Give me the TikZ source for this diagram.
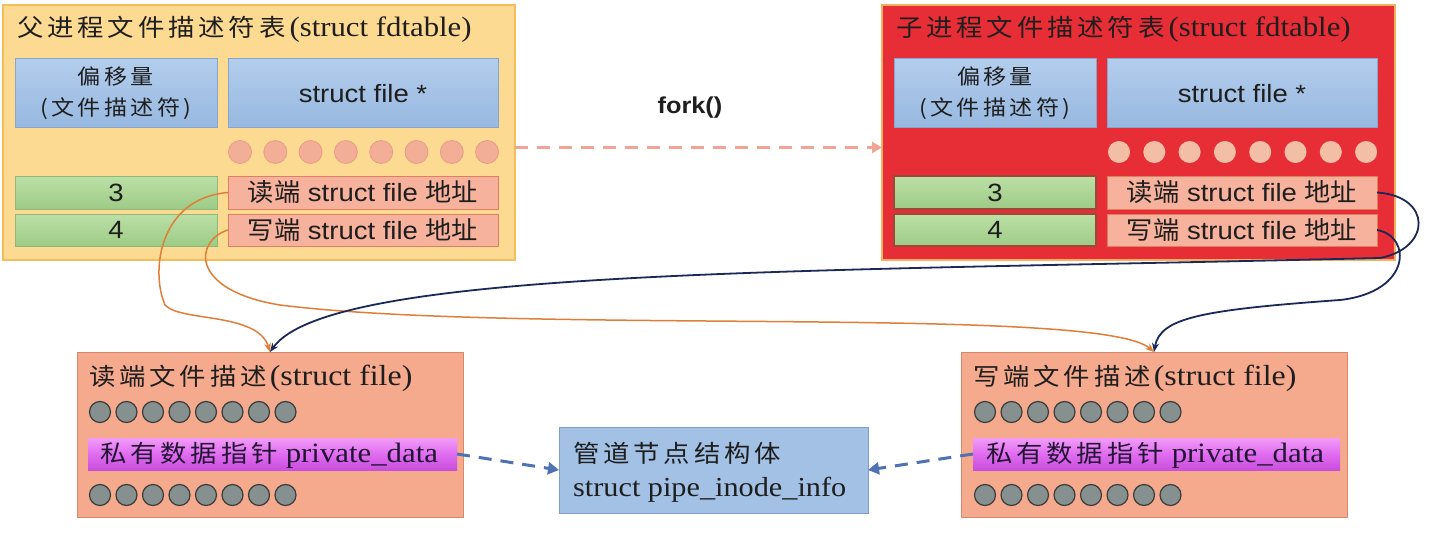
\documentclass[tikz,border=0pt]{standalone}
\usepackage{fontspec}
\setmainfont{Liberation Serif}[FakeStretch=1.1]
\newfontfamily\arialf{Liberation Sans}[FakeStretch=1.1]
\newfontfamily\cjk{Noto Sans CJK SC}[FakeStretch=1.1,LetterSpace=16]
\newfontfamily\cjkn{Noto Sans CJK SC}[FakeStretch=1.05]
\usetikzlibrary{arrows.meta}
\definecolor{parentfill}{HTML}{FCDA92}
\definecolor{parentdraw}{HTML}{F5BC5A}
\definecolor{childfill}{HTML}{E72D36}
\definecolor{childdraw}{HTML}{F3B060}
\definecolor{bluetop}{HTML}{B3CDEC}
\definecolor{bluebot}{HTML}{97B8E0}
\definecolor{bluedraw}{HTML}{86A6CF}
\definecolor{greentop}{HTML}{BCE0A6}
\definecolor{greenbot}{HTML}{9DCB86}
\definecolor{greendraw}{HTML}{8DB877}
\definecolor{cgreendraw}{HTML}{9A4A38}
\definecolor{rowfill}{HTML}{F6B29C}
\definecolor{rowdraw}{HTML}{DE7F62}
\definecolor{pdotfill}{HTML}{F3AE98}
\definecolor{pdotdraw}{HTML}{E89C82}
\definecolor{cdotfill}{HTML}{F2BFA6}
\definecolor{filefill}{HTML}{F5A98D}
\definecolor{filedraw}{HTML}{D9876A}
\definecolor{gdotfill}{HTML}{86908F}
\definecolor{gdotdraw}{HTML}{3C3C3C}
\definecolor{magtop}{HTML}{F29CF7}
\definecolor{magmid}{HTML}{E06CF0}
\definecolor{magbot}{HTML}{C84EDC}
\definecolor{pipefill}{HTML}{A2C1E5}
\definecolor{pipedraw}{HTML}{7E9FCB}
\definecolor{dasharrow}{HTML}{4E72B2}
\definecolor{forkarrow}{HTML}{F2A494}
\definecolor{orangeline}{HTML}{E07E38}
\definecolor{navyline}{HTML}{1B2858}
\definecolor{ink}{HTML}{1E1E1E}
\definecolor{magink}{HTML}{221433}
\tikzset{
  box/.style={rectangle, inner sep=0pt, outer sep=0pt},
  parentbox/.style={box, fill=parentfill, draw=parentdraw, line width=1.5pt},
  childbox/.style={box, fill=childfill, draw=childdraw, line width=1.5pt},
  titletext/.style={anchor=west, inner sep=0pt, text=ink},
  bluebox/.style={box, top color=bluetop, bottom color=bluebot, draw=bluedraw, line width=1pt, text=ink},
  greenbox/.style={box, top color=greentop, bottom color=greenbot, draw=greendraw, line width=1pt, minimum width=202pt, font=\arialf\fontsize{25}{28}\selectfont, text=ink},
  cgreenbox/.style={greenbox, draw=cgreendraw, line width=1.5pt},
  rowbox/.style={box, fill=rowfill, draw=rowdraw, line width=1pt, minimum width=270pt, font=\arialf\fontsize{25}{28}\selectfont, text=ink},
  pdot/.style={circle, inner sep=0pt, minimum size=23pt, fill=pdotfill, draw=pdotdraw, line width=0.8pt},
  cdot/.style={circle, inner sep=0pt, minimum size=22pt, fill=cdotfill},
  filebox/.style={box, fill=filefill, draw=filedraw, line width=1pt},
  gdot/.style={circle, inner sep=0pt, minimum size=21pt, fill=gdotfill, draw=gdotdraw, line width=1.2pt},
  magbar/.style={box, top color=magtop, bottom color=magbot, middle color=magmid, minimum height=32pt},
  magtext/.style={anchor=west, inner sep=0pt, text=magink},
  pipebox/.style={box, fill=pipefill, draw=pipedraw, line width=1pt},
  dasharr/.style={draw=dasharrow, line width=3pt, dash pattern=on 13pt off 9pt, -{Triangle[length=11pt,width=12pt]}},
  forkarr/.style={draw=forkarrow, line width=2.5pt, dash pattern=on 13pt off 9pt, -{Triangle[length=10pt,width=11pt]}},
  orangecurve/.style={draw=orangeline, line width=1.5pt, -{Stealth[length=9pt,width=7pt]}},
  navycurve/.style={draw=navyline, line width=1.8pt, -{Stealth[length=9pt,width=7pt]}}
}
\begin{document}
\begin{tikzpicture}[x=1pt,y=-1pt]
\useasboundingbox (0,0) rectangle (1435,559);
\fill[white] (0,0) rectangle (1435,559);

% ---------- parent table ----------
\node[parentbox, minimum width=512pt, minimum height=255pt] (P) at (259,132.5) {};
\node[titletext] (Ptitle) at (17,29) {{\cjk\fontsize{24}{28}\selectfont 父进程文件描述符表}{\fontsize{28}{30}\selectfont\hspace{4pt}(struct fdtable)}};
\node[bluebox, minimum width=202pt, minimum height=69pt, align=center, font=\cjk\fontsize{21}{31}\selectfont] (pbl) at (116,93.5) {偏移量\\(文件描述符)};
\node[bluebox, minimum width=270pt, minimum height=69pt, font=\arialf\fontsize{25}{28}\selectfont] (pbr) at (363,93.5) {struct file *};
\foreach \i in {0,...,7} \node[pdot] (pd\i) at ({240+35.3*\i},152) {};
\node[greenbox, minimum height=33pt] (pg3) at (116,192.5) {3};
\node[greenbox, minimum height=32pt] (pg4) at (116,230) {4};
\node[rowbox, minimum height=33pt] (pr3) at (363,192.5) {{\cjkn 读端} struct file {\cjkn 地址}};
\node[rowbox, minimum height=32pt] (pr4) at (363,230) {{\cjkn 写端} struct file {\cjkn 地址}};

% ---------- child table ----------
\node[childbox, minimum width=513pt, minimum height=255pt] (C) at (1138.5,132.5) {};
\node[titletext] (Ctitle) at (896,29) {{\cjk\fontsize{24}{28}\selectfont 子进程文件描述符表}{\fontsize{28}{30}\selectfont\hspace{4pt}(struct fdtable)}};
\node[bluebox, minimum width=202pt, minimum height=69pt, align=center, font=\cjk\fontsize{21}{31}\selectfont] (cbl) at (995,93.5) {偏移量\\(文件描述符)};
\node[bluebox, minimum width=270pt, minimum height=69pt, font=\arialf\fontsize{25}{28}\selectfont] (cbr) at (1242,93.5) {struct file *};
\foreach \i in {0,...,7} \node[cdot] (cd\i) at ({1119+35.3*\i},152) {};
\node[cgreenbox, minimum height=33pt] (cg3) at (995,192.5) {3};
\node[cgreenbox, minimum height=32pt] (cg4) at (995,230) {4};
\node[rowbox, minimum height=33pt] (cr3) at (1242,192.5) {{\cjkn 读端} struct file {\cjkn 地址}};
\node[rowbox, minimum height=32pt] (cr4) at (1242,230) {{\cjkn 写端} struct file {\cjkn 地址}};

% ---------- fork ----------
\draw[forkarr] ([yshift=-15pt]P.east) -- ([yshift=-15pt]C.west);
\node[inner sep=0pt, font=\arialf\bfseries\fontsize{23}{26}\selectfont, text=ink] (fork) at (690,108) {fork()};

% ---------- read file ----------
\node[filebox, minimum width=386pt, minimum height=165pt] (BL) at (270,434.5) {};
\node[titletext] (BLtitle) at (89,378) {{\cjk\fontsize{24}{28}\selectfont 读端文件描述}{\fontsize{29}{30}\selectfont\hspace{3pt}(struct file)}};
\foreach \i in {0,...,7} \node[gdot] (bla\i) at ({100+26.5*\i},412) {};
\node[magbar, minimum width=369pt] (magL) at (272.5,454) {};
\node[magtext] (magLt) at (100,455) {{\cjk\fontsize{24}{28}\selectfont 私有数据指针}{\fontsize{28}{30}\selectfont\hspace{8pt}private\_data}};
\foreach \i in {0,...,7} \node[gdot] (blb\i) at ({100+26.5*\i},495) {};

% ---------- write file ----------
\node[filebox, minimum width=386pt, minimum height=165pt] (BR) at (1154,434.5) {};
\node[titletext] (BRtitle) at (973,378) {{\cjk\fontsize{24}{28}\selectfont 写端文件描述}{\fontsize{29}{30}\selectfont\hspace{3pt}(struct file)}};
\foreach \i in {0,...,7} \node[gdot] (bra\i) at ({985+26.5*\i},412) {};
\node[magbar, minimum width=367pt] (magR) at (1156.5,454) {};
\node[magtext] (magRt) at (986,455) {{\cjk\fontsize{24}{28}\selectfont 私有数据指针}{\fontsize{28}{30}\selectfont\hspace{8pt}private\_data}};
\foreach \i in {0,...,7} \node[gdot] (brb\i) at ({985+26.5*\i},495) {};

% ---------- pipe inode ----------
\node[pipebox, minimum width=309pt, minimum height=86pt] (M) at (713.5,470) {};
\node[titletext] (Mt1) at (573,453) {\cjk\fontsize{24}{28}\selectfont 管道节点结构体};
\node[titletext] (Mt2) at (573,490) {\fontsize{27.5}{30}\selectfont struct pipe\_inode\_info};

\draw[dasharr] (magL.east) -- (M.west);
\draw[dasharr] (magR.west) -- (M.east);

% ---------- curves ----------
\draw[orangecurve] (pr3.west) .. controls (160,198) and (150,270) .. (165,305) .. controls (180,322) and (258,312) .. (BL.north);
\draw[orangecurve] (pr4.west) .. controls (195,240) and (188,290) .. (280,305) .. controls (520,335) and (1100,305) .. (BR.north);
\draw[navycurve] (cr3.east) .. controls (1432,196) and (1432,248) .. (1380,258) .. controls (800,272) and (330,268) .. (BL.north);
\draw[navycurve] (cr4.east) .. controls (1412,236) and (1412,292) .. (1340,300) .. controls (1200,310) and (1160,318) .. (BR.north);
\end{tikzpicture}
\end{document}
